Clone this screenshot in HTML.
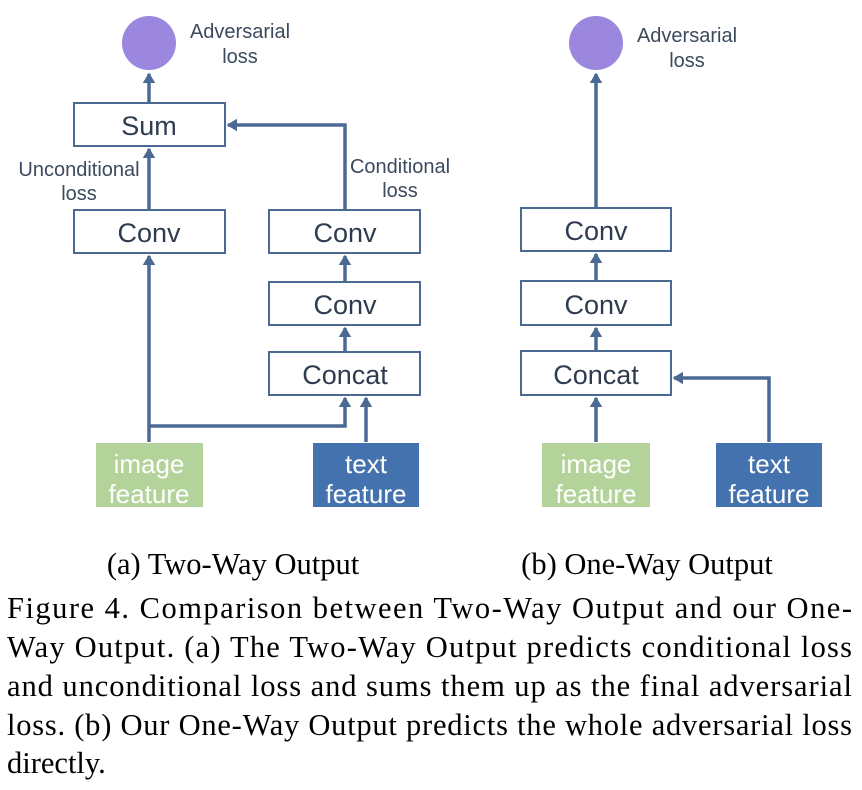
<!DOCTYPE html>
<html><head><meta charset="utf-8"><style>
html,body{margin:0;padding:0;background:#fff;}
svg{display:block;}
.box{fill:#fff;stroke:#4a6a94;stroke-width:2;}
.bt{font-family:"Liberation Sans",sans-serif;font-size:27px;fill:#2f3b4f;text-anchor:middle;}
.lb{font-family:"Liberation Sans",sans-serif;font-size:20px;fill:#3c4a5e;text-anchor:middle;}
.ft{font-family:"Liberation Sans",sans-serif;font-size:26px;fill:#fff;text-anchor:middle;}
.ln{fill:none;stroke:#4a6a94;stroke-width:3.5;}
.cap{font-family:"Liberation Serif",serif;font-size:30.5px;fill:#000;}
</style></head><body>
<svg width="862" height="790" viewBox="0 0 862 790">
<defs><marker id="ar" markerWidth="4" markerHeight="4" refX="2.6" refY="1.8" orient="auto" markerUnits="strokeWidth"><path d="M0,0 L3,1.8 L0,3.6 z" fill="#4a6a94"/></marker></defs>

<g>
<circle cx="149" cy="43" r="27" fill="#9b87de"/>
<text class="lb" x="240" y="38">Adversarial</text>
<text class="lb" x="240" y="63">loss</text>
<polyline class="ln" points="149,103 149,74" marker-end="url(#ar)"/>
<rect class="box" x="74" y="103" width="151" height="43"/>
<text class="bt" x="149" y="135">Sum</text>
<polyline class="ln" points="149,210 149,149" marker-end="url(#ar)"/>
<text class="lb" x="79" y="176">Unconditional</text>
<text class="lb" x="79" y="200">loss</text>
<rect class="box" x="74" y="210" width="151" height="43"/>
<text class="bt" x="149" y="242">Conv</text>
<polyline class="ln" points="149,442 149,256" marker-end="url(#ar)"/>
<polyline class="ln" points="149,426 345,426 345,398" marker-end="url(#ar)"/>
<polyline class="ln" points="366,442 366,398" marker-end="url(#ar)"/>
<polyline class="ln" points="345,210 345,125 228,125" marker-end="url(#ar)"/>
<text class="lb" x="400" y="173">Conditional</text>
<text class="lb" x="400" y="197">loss</text>
<rect class="box" x="269" y="210" width="151" height="43"/>
<text class="bt" x="345" y="242">Conv</text>
<polyline class="ln" points="345,282 345,256" marker-end="url(#ar)"/>
<rect class="box" x="269" y="282" width="151" height="43"/>
<text class="bt" x="345" y="314">Conv</text>
<polyline class="ln" points="345,352 345,328" marker-end="url(#ar)"/>
<rect class="box" x="269" y="352" width="151" height="43"/>
<text class="bt" x="345" y="384">Concat</text>
<rect x="96" y="443" width="107" height="64" fill="#b3d39a"/>
<text class="ft" x="149" y="473">image</text>
<text class="ft" x="149" y="503">feature</text>
<rect x="313" y="443" width="106" height="64" fill="#4472ae"/>
<text class="ft" x="366" y="473">text</text>
<text class="ft" x="366" y="503">feature</text>
</g>

<g>
<circle cx="596" cy="43" r="27" fill="#9b87de"/>
<text class="lb" x="687" y="42">Adversarial</text>
<text class="lb" x="687" y="67">loss</text>
<polyline class="ln" points="596,208 596,74" marker-end="url(#ar)"/>
<rect class="box" x="521" y="208" width="150" height="43"/>
<text class="bt" x="596" y="240">Conv</text>
<polyline class="ln" points="596,281 596,254" marker-end="url(#ar)"/>
<rect class="box" x="521" y="281" width="150" height="44"/>
<text class="bt" x="596" y="314">Conv</text>
<polyline class="ln" points="596,351 596,328" marker-end="url(#ar)"/>
<rect class="box" x="521" y="351" width="150" height="44"/>
<text class="bt" x="596" y="384">Concat</text>
<polyline class="ln" points="596,442 596,398" marker-end="url(#ar)"/>
<polyline class="ln" points="769,442 769,378 674,378" marker-end="url(#ar)"/>
<rect x="542" y="443" width="108" height="64" fill="#b3d39a"/>
<text class="ft" x="596" y="473">image</text>
<text class="ft" x="596" y="503">feature</text>
<rect x="716" y="443" width="106" height="64" fill="#4472ae"/>
<text class="ft" x="769" y="473">text</text>
<text class="ft" x="769" y="503">feature</text>
</g>

<text class="cap" x="233" y="574" text-anchor="middle">(a) Two-Way Output</text>
<text class="cap" x="647" y="574" text-anchor="middle">(b) One-Way Output</text>
<g>
<text class="cap" x="7" y="618" textLength="845" lengthAdjust="spacing">Figure 4.  Comparison between Two-Way Output and our One-</text>
<text class="cap" x="7" y="657" textLength="845" lengthAdjust="spacing">Way Output.  (a) The Two-Way Output predicts conditional loss</text>
<text class="cap" x="7" y="696" textLength="845" lengthAdjust="spacing">and unconditional loss and sums them up as the final adversarial</text>
<text class="cap" x="7" y="735" textLength="845" lengthAdjust="spacing">loss. (b) Our One-Way Output predicts the whole adversarial loss</text>
<text class="cap" x="7" y="773">directly.</text>
</g>
</svg>
</body></html>
